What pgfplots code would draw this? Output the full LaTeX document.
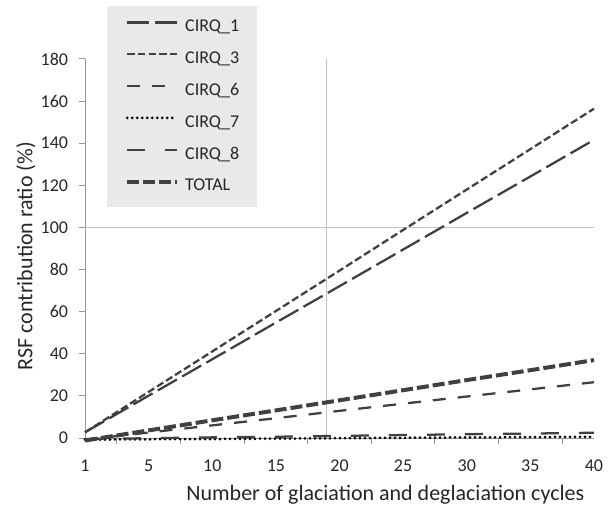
\documentclass[border=0pt]{standalone}
\usepackage{fontspec}
\setmainfont{Carlito}
\usepackage{pgfplots}
\pgfplotsset{compat=1.18}
\definecolor{linegray}{RGB}{64,64,64}
\definecolor{leggray}{RGB}{232,233,235}
\definecolor{axgray}{RGB}{150,150,150}
\definecolor{gridgray}{RGB}{195,195,195}
\begin{document}
\begin{tikzpicture}
\useasboundingbox (-63.75pt,-51pt) rectangle (393pt,328.5pt);
\begin{axis}[
  scale only axis, width=381.75pt, height=284.25pt,
  xmin=0, xmax=8, ymin=0, ymax=180,
  clip=false,
  axis x line*=bottom, axis y line*=left,
  axis line style={draw=axgray, line width=0.75pt, -},
  tick align=outside,
  major tick length=0pt, minor tick length=4.5pt,
  every tick/.style={draw=axgray, line width=0.75pt},
  ytick={0,20,...,180},
  minor ytick={0,20,...,180},
  xtick={0,...,8},
  xticklabels={1,5,10,15,20,25,30,35,40},
  minor xtick={0.5,1.5,...,7.5},
  /pgf/number format/assume math mode=true,
  tick label style={font=\fontsize{13.5}{15}\selectfont, text=black!85},
  yticklabel style={anchor=east, inner sep=0pt, xshift=-12.5pt},
  xticklabel style={anchor=center, inner sep=0pt, yshift=-20.5pt},
  xlabel={Number of glaciation and deglaciation cycles},
  ylabel={RSF contribution ratio (\%)},
  label style={font=\fontsize{16.5}{19}\selectfont, text=black!85},
  xlabel style={at={(rel axis cs:0.59,-0.1504)}, anchor=center, inner sep=0pt},
  ylabel style={at={(rel axis cs:-0.116,0.48)}, anchor=center, inner sep=0pt},
  legend style={at={(rel axis cs:0.0426,1.1398)}, anchor=north west,
    draw=none, fill=leggray, inner xsep=13.7pt, inner ysep=9.4pt,
    row sep=11.1pt,
    font=\fontsize{13.5}{15}\selectfont,
    nodes={inner sep=0pt, text height=9.75pt, text depth=3pt, text=black!85},
    /tikz/every odd column/.append style={column sep=4.5pt}},
  legend cell align=left,
  legend image code/.code={\draw[#1] (0pt,3.6pt) -- (37.5pt,3.6pt);},
]
% grid lines
\addplot[gridgray, line width=0.75pt, forget plot] coordinates {(0,100) (8,100)};
\addplot[gridgray, line width=0.75pt, forget plot] coordinates {(3.79,0) (3.79,180)};
% CIRQ_1
\addplot[linegray, line width=1.7pt, dash pattern=on 16.5pt off 4.5pt] coordinates {
(0,2.7) (1,20.1) (2,37.4) (3,54.8) (4,72.1) (5,89.5) (6,106.9) (7,124.2) (8,141.6)};
\addlegendentry{CIRQ\_1}
% CIRQ_3
\addplot[linegray, line width=1.7pt, dash pattern=on 5.5pt off 2.5pt] coordinates {
(0,2.7) (1,21.9) (2,41.1) (3,60.3) (4,79.5) (5,98.8) (6,118.0) (7,137.2) (8,156.4)};
\addlegendentry{CIRQ\_3}
% CIRQ_6
\addplot[linegray, line width=1.7pt, dash pattern=on 9.75pt off 9pt] coordinates {
(0,-0.8) (1,2.6) (2,6.0) (3,9.4) (4,12.9) (5,16.3) (6,19.7) (7,23.1) (8,26.5)};
\addlegendentry{CIRQ\_6}
% CIRQ_7
\addplot[black, line width=2.25pt, line cap=round, dash pattern=on 0pt off 3.75pt] coordinates {
(0,-0.8) (1,-0.6) (2,-0.5) (3,-0.3) (4,-0.1) (5,0.1) (6,0.3) (7,0.4) (8,0.6)};
\addlegendentry{CIRQ\_7}
% CIRQ_8
\addplot[linegray, line width=1.7pt, dash pattern=on 13.5pt off 15pt] coordinates {
(0,-0.5) (1,-0.1) (2,0.3) (3,0.6) (4,1.0) (5,1.4) (6,1.8) (7,2.1) (8,2.5)};
\addlegendentry{CIRQ\_8}
% TOTAL
\addplot[linegray, line width=3pt, dash pattern=on 9pt off 3pt] coordinates {
(0,-1.2) (1,3.6) (2,8.4) (3,13.1) (4,17.9) (5,22.7) (6,27.5) (7,32.2) (8,37.0)};
\addlegendentry{TOTAL}
\end{axis}
\end{tikzpicture}
\end{document}
